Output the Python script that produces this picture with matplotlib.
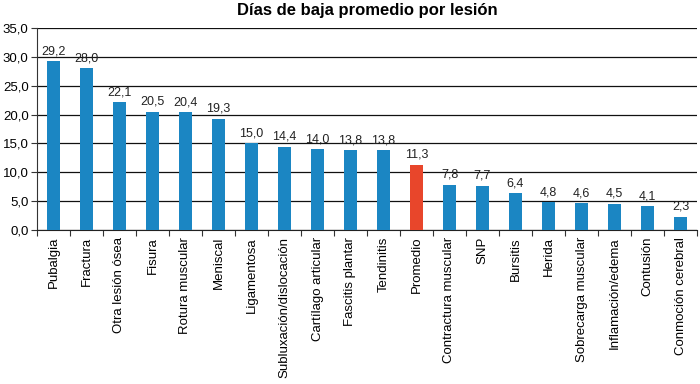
import matplotlib.pyplot as plt
import numpy as np

plt.rcParams['font.family'] = ['Liberation Sans', 'DejaVu Sans']

lesiones = ['Pubalgia', 'Fractura', 'Otra lesión ósea', 'Fisura', 'Rotura muscular',
            'Meniscal', 'Ligamentosa', 'Subluxación/dislocación', 'Cartílago articular',
            'Fascitis plantar', 'Tendinitis', 'Promedio', 'Contractura muscular', 'SNP',
            'Bursitis', 'Herida', 'Sobrecarga muscular', 'Inflamación/edema', 'Contusión',
            'Conmoción cerebral']
dias = [29.2, 28.0, 22.1, 20.5, 20.4, 19.3, 15.0, 14.4, 14.0, 13.8, 13.8, 11.3,
        7.8, 7.7, 6.4, 4.8, 4.6, 4.5, 4.1, 2.3]
yticks = [0, 5, 10, 15, 20, 25, 30, 35]

azul = '#1b86c3'
rojo = '#e8462b'
colores = [rojo if l == 'Promedio' else azul for l in lesiones]

fig = plt.figure(figsize=(7, 3.84), dpi=100)
ax = fig.add_axes([37 / 700, 1 - 230 / 384, 660 / 700, 202 / 384])

x = np.arange(len(lesiones))
ax.bar(x, dias, width=0.42, color=colores, zorder=3)
for xi, v in zip(x, dias):
    ax.text(xi, v + 0.7, f'{v:.1f}'.replace('.', ','), ha='center', va='bottom',
            fontsize=9, color='#222222', zorder=4)

ax.set_xlim(-0.5, len(lesiones) - 0.5)
ax.set_ylim(0, 35)
ax.set_yticks(yticks)
ax.set_yticklabels([f'{t:.1f}'.replace('.', ',') for t in yticks], fontsize=9.5)
ax.yaxis.grid(True, color='#111111', linewidth=0.9, zorder=0)

ax.set_xticks(x)
ax.set_xticklabels(lesiones, rotation=90, fontsize=9.5)
ax.tick_params(axis='x', length=0, pad=5)
ax.set_xticks(np.arange(-0.5, len(lesiones), 1), minor=True)
ax.tick_params(axis='x', which='minor', length=4, width=0.8, color='#333333')
ax.tick_params(axis='y', length=4, width=0.8, color='#333333', pad=2)

for s in ['top', 'right']:
    ax.spines[s].set_visible(False)
ax.spines['left'].set_color('#333333')
ax.spines['bottom'].set_color('#222222')

ax.set_title('Días de baja promedio por lesión', fontsize=12, fontweight='bold', pad=9)

fig.savefig('out.png', dpi=100)
